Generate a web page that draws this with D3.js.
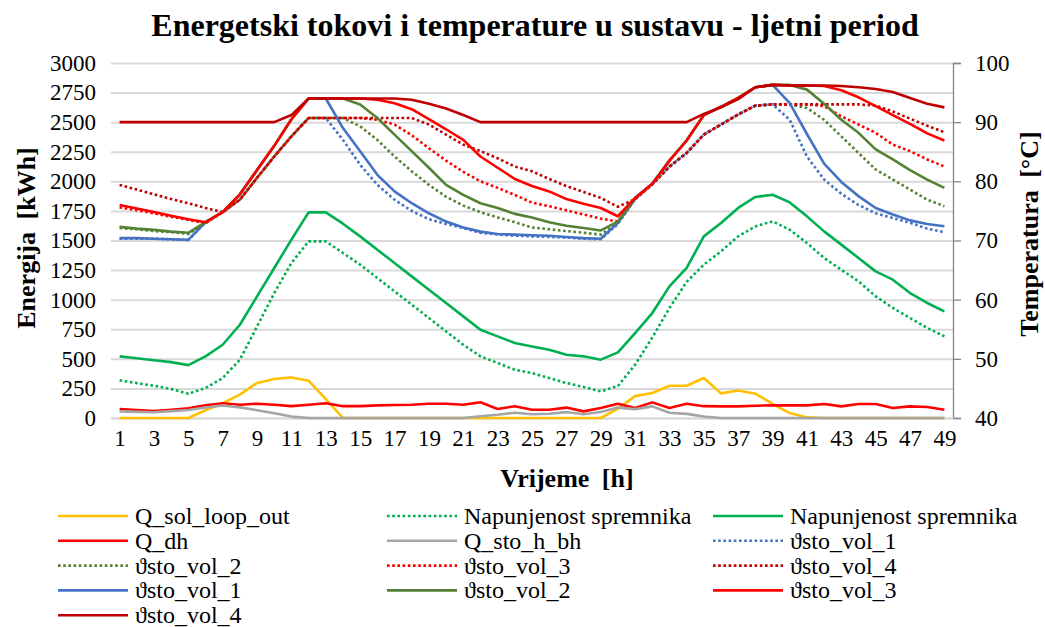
<!DOCTYPE html>
<html>
<head>
<meta charset="utf-8">
<script src="https://cdn.jsdelivr.net/npm/d3@7/dist/d3.min.js"></script>
<style>
    body { margin: 0; background: #ffffff; }
    svg text { font-family: 'Liberation Serif', 'Times New Roman', Tinos, 'DejaVu Serif', serif; fill: #000000; }
</style>
</head>
<body>
<div id="chart"></div>
<script>
// Kategorije (sati)
var hours = [1, 2, 3, 4, 5, 6, 7, 8, 9, 10, 11, 12, 13, 14, 15, 16, 17, 18, 19, 20, 21, 22, 23, 24, 25,
    26, 27, 28, 29, 30, 31, 32, 33, 34, 35, 36, 37, 38, 39, 40, 41, 42, 43, 44, 45, 46, 47, 48, 49];
var hourLabels = [1, 3, 5, 7, 9, 11, 13, 15, 17, 19, 21, 23, 25, 27, 29, 31, 33, 35, 37, 39, 41, 43, 45, 47, 49];
var energyTicks = [0, 250, 500, 750, 1000, 1250, 1500, 1750, 2000, 2250, 2500, 2750, 3000];
var tempTicks = [40, 50, 60, 70, 80, 90, 100];

// Energija [kWh]
var qSolLoopOut = [0, 0, 0, 0, 0, 65, 125, 197, 296, 330, 343, 315, 160, 0, 0, 0, 0, 0, 0, 0, 0, 0, 0, 0, 0,
    0, 0, 0, 0, 80, 185, 211, 273, 273, 338, 208, 233, 205, 120, 42, 5, 0, 0, 0, 0, 0, 0, 0, 0];
var napunjenostDot = [318, 295, 272, 245, 205, 253, 338, 493, 774, 1056, 1310, 1493, 1493, 1394, 1296, 1183, 1070, 958, 845, 732,
    619, 521, 465, 408, 380, 338, 296, 262, 225, 270, 450, 680, 930, 1150, 1296, 1408, 1535, 1619, 1662, 1591,
    1479, 1352, 1253, 1155, 1028, 930, 845, 761, 690];
var napunjenost = [521, 505, 488, 472, 447, 521, 619, 788, 1028, 1268, 1507, 1738, 1738, 1642, 1535, 1422, 1310, 1197, 1084, 972,
    859, 746, 690, 634, 605, 577, 535, 521, 493, 555, 718, 887, 1112, 1268, 1535, 1648, 1775, 1868, 1887, 1822,
    1704, 1577, 1465, 1352, 1239, 1169, 1056, 972, 901];
var qDh = [76, 68, 58, 70, 82, 108, 125, 112, 121, 112, 100, 112, 125, 100, 100, 107, 110, 112, 120, 120,
    112, 133, 76, 100, 70, 70, 88, 56, 85, 121, 85, 132, 85, 120, 100, 98, 98, 104, 107, 107,
    107, 118, 98, 118, 118, 85, 98, 93, 70];
var qStoHBh = [56, 52, 48, 58, 68, 88, 105, 90, 66, 40, 12, 0, 0, 0, 0, 0, 0, 0, 0, 0,
    0, 15, 28, 45, 32, 36, 50, 32, 50, 88, 75, 98, 45, 35, 12, 0, 0, 0, 0, 0,
    0, 0, 0, 0, 0, 0, 0, 0, 0];

// Temperature [°C]
var vol1Dot = [70.3, 70.3, 70.3, 70.2, 70.1, 73.0, 74.8, 76.9, 80.6, 84.2, 87.6, 90.7, 90.7, 87.0, 82.8, 79.4, 76.9, 75.0, 73.6, 72.8,
    72.1, 71.3, 71.0, 70.8, 70.7, 70.6, 70.5, 70.3, 70.2, 72.8, 77.0, 79.5, 82.5, 84.8, 87.9, 89.6, 91.3, 92.8, 93.0, 90.4,
    84.2, 80.3, 77.9, 76.0, 74.6, 73.8, 73.0, 72.0, 71.4];
var vol2Dot = [72.1, 71.9, 71.6, 71.4, 71.1, 73.0, 74.8, 76.9, 80.6, 84.2, 87.6, 90.7, 90.7, 90.7, 89.3, 87.0, 84.2, 81.7, 79.4, 77.4,
    75.9, 74.8, 73.9, 73.1, 72.2, 71.9, 71.6, 71.3, 71.0, 73.0, 77.0, 79.5, 82.5, 84.8, 87.9, 89.6, 91.3, 92.8, 93.0, 93.0,
    92.4, 90.4, 87.6, 84.8, 82.0, 80.3, 78.6, 76.9, 75.8];
var vol3Dot = [75.6, 75.1, 74.6, 74.0, 73.5, 72.9, 74.8, 76.9, 80.6, 84.2, 87.6, 90.7, 90.7, 90.7, 90.7, 90.4, 89.6, 87.8, 85.6, 83.5,
    81.6, 80.0, 78.9, 77.7, 76.4, 75.8, 75.1, 74.4, 73.7, 73.2, 77.0, 79.5, 82.5, 84.8, 87.9, 89.6, 91.3, 92.8, 93.0, 93.0,
    93.0, 92.7, 91.0, 89.6, 88.2, 86.2, 85.1, 83.7, 82.5];
var vol4Dot = [79.4, 78.6, 77.8, 77.0, 76.3, 75.5, 74.8, 76.9, 80.6, 84.2, 87.6, 90.7, 90.7, 90.7, 90.7, 90.7, 90.7, 90.7, 89.6, 87.9,
    86.2, 85.1, 83.9, 82.5, 81.7, 80.4, 79.2, 78.2, 77.2, 75.7, 77.0, 79.5, 82.5, 84.8, 87.9, 89.6, 91.3, 92.8, 93.0, 93.0,
    93.0, 93.0, 93.0, 93.0, 92.8, 91.8, 90.6, 89.4, 88.3];
var vol1 = [70.4, 70.4, 70.3, 70.2, 70.1, 73.1, 74.8, 77.8, 81.9, 86.0, 90.5, 94.0, 94.0, 89.0, 85.1, 81.1, 78.3, 76.3, 74.6, 73.2,
    72.2, 71.5, 71.1, 71.0, 70.9, 70.8, 70.6, 70.4, 70.3, 73.0, 77.2, 79.6, 83.5, 86.9, 91.2, 92.6, 94.1, 95.9, 96.3, 93.2,
    88.0, 83.0, 79.9, 77.5, 75.5, 74.4, 73.4, 72.8, 72.4];
var vol2 = [72.3, 72.0, 71.8, 71.5, 71.3, 73.1, 74.8, 77.8, 81.9, 86.0, 90.5, 94.0, 94.0, 94.0, 93.0, 90.7, 87.9, 85.1, 82.3, 79.4,
    77.7, 76.3, 75.5, 74.5, 73.9, 73.1, 72.5, 72.1, 71.7, 73.2, 77.2, 79.6, 83.5, 86.9, 91.2, 92.6, 94.1, 95.9, 96.3, 96.3,
    95.5, 93.1, 90.4, 88.2, 85.4, 83.7, 81.9, 80.3, 78.9];
var vol3 = [76.0, 75.4, 74.8, 74.2, 73.6, 73.1, 74.8, 77.8, 81.9, 86.0, 90.5, 94.0, 94.0, 94.0, 94.0, 93.8, 93.2, 92.2, 90.5, 88.8,
    87.0, 84.2, 82.3, 80.4, 79.2, 78.3, 77.0, 76.2, 75.5, 74.1, 77.2, 79.6, 83.5, 86.9, 91.2, 92.6, 94.1, 95.9, 96.3, 96.2,
    96.2, 96.1, 95.4, 94.2, 92.7, 91.2, 89.7, 88.1, 86.9];
var vol4 = [90, 90, 90, 90, 90, 90, 90, 90, 90, 90, 91.2, 94.0, 94.0, 94.0, 94.0, 94.0, 94.0, 93.8, 93.1, 92.3,
    91.2, 90, 90, 90, 90, 90, 90, 90, 90, 90, 90, 90, 90, 90, 91.4, 92.5, 93.9, 95.9, 96.3, 96.2,
    96.2, 96.2, 96.1, 95.9, 95.6, 95.1, 94.1, 93.1, 92.5];

var series = [
    { name: 'Q_sol_loop_out', values: qSolLoopOut, axis: 'E', color: '#FFC000', dotted: false },
    { name: 'Napunjenost spremnika', values: napunjenostDot, axis: 'E', color: '#00B050', dotted: true },
    { name: 'Napunjenost spremnika', values: napunjenost, axis: 'E', color: '#00B050', dotted: false },
    { name: 'Q_dh', values: qDh, axis: 'E', color: '#FF0000', dotted: false },
    { name: 'Q_sto_h_bh', values: qStoHBh, axis: 'E', color: '#A5A5A5', dotted: false },
    { name: 'ϑsto_vol_1', values: vol1Dot, axis: 'T', color: '#4472C4', dotted: true },
    { name: 'ϑsto_vol_2', values: vol2Dot, axis: 'T', color: '#548235', dotted: true },
    { name: 'ϑsto_vol_3', values: vol3Dot, axis: 'T', color: '#FF0000', dotted: true },
    { name: 'ϑsto_vol_4', values: vol4Dot, axis: 'T', color: '#C00000', dotted: true },
    { name: 'ϑsto_vol_1', values: vol1, axis: 'T', color: '#4472C4', dotted: false },
    { name: 'ϑsto_vol_2', values: vol2, axis: 'T', color: '#548235', dotted: false },
    { name: 'ϑsto_vol_3', values: vol3, axis: 'T', color: '#FF0000', dotted: false },
    { name: 'ϑsto_vol_4', values: vol4, axis: 'T', color: '#C00000', dotted: false }
];

var W = 1045, H = 627;
var plot = { left: 111, right: 953, top: 63, bottom: 418 };
var serif = "'Liberation Serif', 'Times New Roman', Tinos, 'DejaVu Serif', serif";

var svg = d3.select('#chart').append('svg')
    .attr('width', W)
    .attr('height', H)
    .attr('font-family', serif);

var x = d3.scalePoint()
    .domain(hours)
    .range([plot.left, plot.right])
    .padding(0.5);
var yE = d3.scaleLinear()
    .domain([0, 3000])
    .range([plot.bottom, plot.top]);
var yT = d3.scaleLinear()
    .domain([40, 100])
    .range([plot.bottom, plot.top]);

// Mreža
svg.append('g')
    .attr('class', 'grid')
    .attr('transform', 'translate(' + plot.left + ',0)')
    .call(d3.axisLeft(yE).tickValues(energyTicks).tickSize(-(plot.right - plot.left)).tickFormat(''))
    .call(function (g) { g.select('.domain').remove(); })
    .selectAll('line')
    .attr('stroke', '#D9D9D9')
    .attr('stroke-width', 2);

// Lijeva os
var leftAxis = svg.append('g')
    .attr('transform', 'translate(' + (plot.left - 15) + ',0)')
    .call(d3.axisLeft(yE).tickValues(energyTicks).tickSize(0).tickPadding(0).tickFormat(d3.format('d')));
leftAxis.select('.domain').remove();

// Desna os
var rightAxis = svg.append('g')
    .attr('transform', 'translate(' + plot.right + ',0)')
    .call(d3.axisRight(yT).tickValues(tempTicks).tickSize(8).tickPadding(14).tickFormat(d3.format('d')));
rightAxis.select('.domain').attr('stroke', '#868686').attr('stroke-width', 1.3);
rightAxis.selectAll('line').attr('stroke', '#868686').attr('stroke-width', 1.3);

// X os
var xAxis = svg.append('g')
    .attr('transform', 'translate(0,' + plot.bottom + ')')
    .call(d3.axisBottom(x).tickValues(hourLabels).tickSize(0).tickPadding(12));
xAxis.select('.domain').attr('stroke', '#D9D9D9').attr('stroke-width', 2);

svg.selectAll('.tick text')
    .attr('font-family', serif)
    .style('font-family', serif)
    .style('font-size', '23px');

// Linije
var line = function (s) {
    var scale = s.axis === 'E' ? yE : yT;
    return d3.line()
        .x(function (d, i) { return x(hours[i]); })
        .y(function (d) { return scale(d); })(s.values);
};

svg.append('g')
    .attr('class', 'lines')
    .selectAll('path')
    .data(series)
    .enter()
    .append('path')
    .attr('d', line)
    .attr('fill', 'none')
    .attr('stroke', function (d) { return d.color; })
    .attr('stroke-width', 2.6)
    .attr('stroke-linejoin', 'round')
    .attr('stroke-dasharray', function (d) { return d.dotted ? '2.6,2.6' : null; });

// Naslovi
svg.append('text')
    .attr('x', 535)
    .attr('y', 36)
    .attr('text-anchor', 'middle')
    .style('font-size', '32px')
    .style('font-weight', 'bold')
    .text('Energetski tokovi i temperature u sustavu - ljetni period');

svg.append('text')
    .attr('transform', 'translate(35,' + 238 + ')rotate(-90)')
    .attr('text-anchor', 'middle')
    .style('font-size', '26px')
    .style('font-weight', 'bold')
    .style('word-spacing', '6px')
    .text('Energija [kWh]');

svg.append('text')
    .attr('transform', 'translate(1038,' + 234 + ')rotate(-90)')
    .attr('text-anchor', 'middle')
    .style('font-size', '26px')
    .style('font-weight', 'bold')
    .style('word-spacing', '6px')
    .text('Temperatura [°C]');

svg.append('text')
    .attr('x', 567)
    .attr('y', 487)
    .attr('text-anchor', 'middle')
    .style('font-size', '26px')
    .style('font-weight', 'bold')
    .style('word-spacing', '6px')
    .text('Vrijeme [h]');

// Legenda
var colX = [58, 387, 713];
var legend = svg.append('g')
    .attr('class', 'legend')
    .selectAll('g')
    .data(series)
    .enter()
    .append('g')
    .attr('transform', function (d, i) {
        return 'translate(' + colX[i % 3] + ',' + (516 + Math.floor(i / 3) * 24.8) + ')';
    });

legend.append('line')
    .attr('x1', 0)
    .attr('x2', 70)
    .attr('stroke', function (d) { return d.color; })
    .attr('stroke-width', 2.6)
    .attr('stroke-dasharray', function (d) { return d.dotted ? '2.6,2.6' : null; });

legend.append('text')
    .attr('x', 77)
    .attr('dy', '0.33em')
    .style('font-size', '24px')
    .text(function (d) { return d.name; });
</script>
</body>
</html>
